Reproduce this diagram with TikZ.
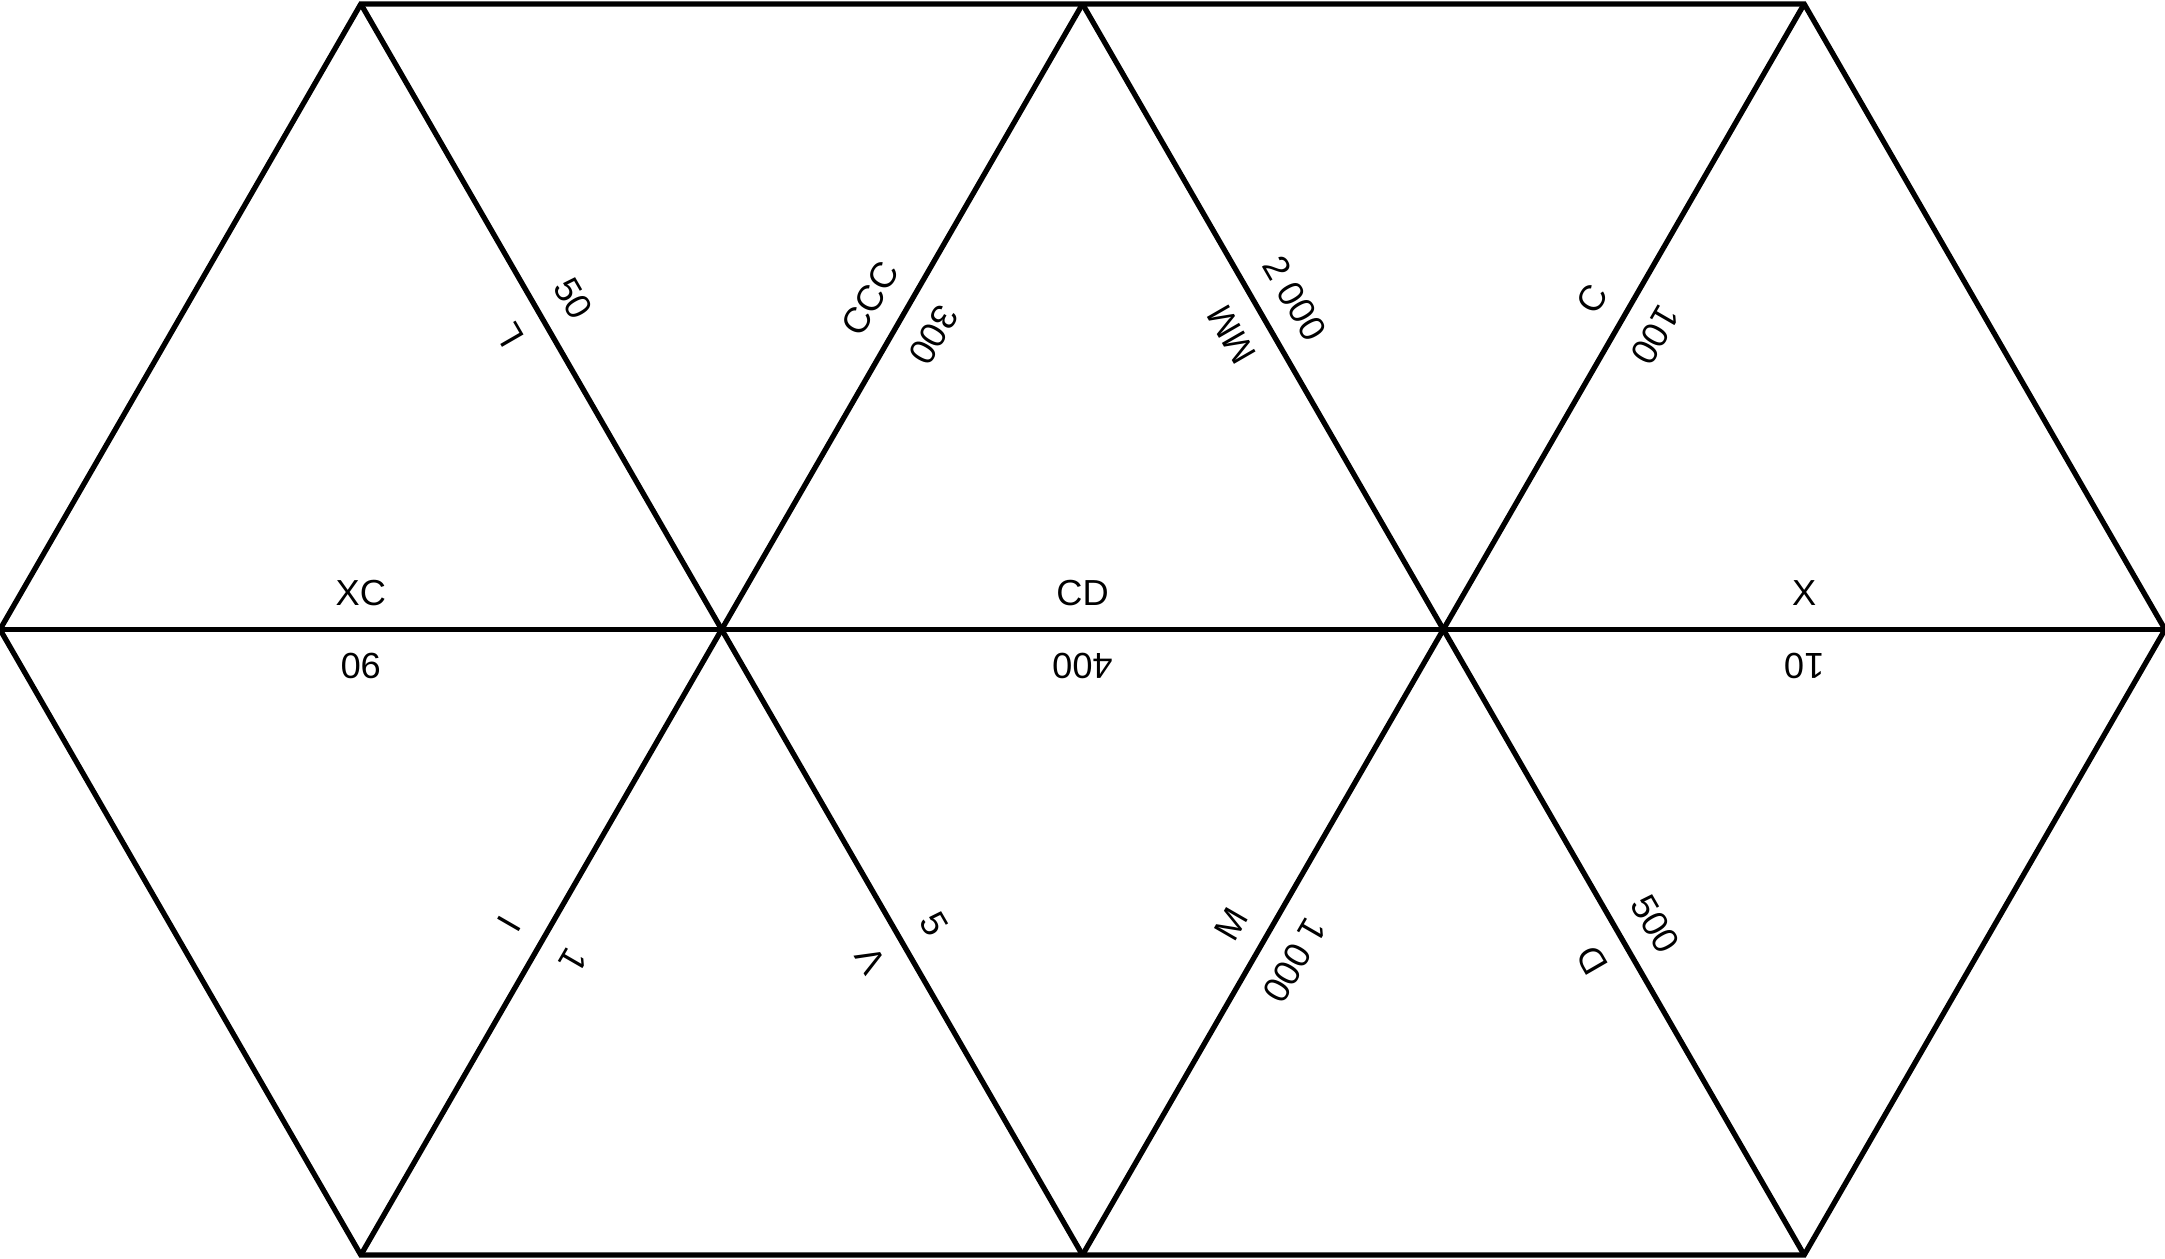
\documentclass[tikz,border=0pt]{standalone}
\usepackage{fontspec}
\setmainfont{Liberation Sans}
\usetikzlibrary{calc}
\tikzset{
  lab/.style={inner sep=0pt, anchor=center, font=\fontsize{10.3pt}{12pt}\selectfont},
  edge/.style={line width=1.5pt, line join=miter, black}
}
\newcommand\offdist{0.365}
\newcommand\gp{\hspace{0.25em}}
% #1,#2 end points, #3 angle of text on first side, #4 first text, #5 second text, #6 name
\newcommand\edgelab[6]{%
  \node[lab, rotate=#3] (#6a) at ($(#1)!0.5!(#2)+({#3+90}:\offdist)$) {#4};
  \node[lab, rotate=#3+180] (#6b) at ($(#1)!0.5!(#2)+({#3-90}:\offdist)$) {#5};
}
\begin{document}
\begin{tikzpicture}
\useasboundingbox (0,0) rectangle (21.65,12.59);
\coordinate (M0) at (0,6.295);
\coordinate (M1) at (7.2167,6.295);
\coordinate (M2) at (14.4333,6.295);
\coordinate (M3) at (21.65,6.295);
\coordinate (T0) at (3.6083,12.55);
\coordinate (T1) at (10.825,12.55);
\coordinate (T2) at (18.0417,12.55);
\coordinate (B0) at (3.6083,0.04);
\coordinate (B1) at (10.825,0.04);
\coordinate (B2) at (18.0417,0.04);

\draw[edge] (T0) -- (T1) -- (T2) -- (M3) -- (B2) -- (B1) -- (B0) -- (M0) -- cycle;
\draw[edge] (M0) -- (M3);
\draw[edge] (T0) -- (B1);
\draw[edge] (T1) -- (B0);
\draw[edge] (T1) -- (B2);
\draw[edge] (T2) -- (B1);

\edgelab{T0}{M1}{-60}{50}{L}{e1}
\edgelab{T1}{M1}{60}{CCC}{300}{e2}
\edgelab{T1}{M2}{-60}{2\gp000}{MM}{e3}
\edgelab{T2}{M2}{60}{C}{100}{e4}
\edgelab{M0}{M1}{0}{XC}{90}{e5}
\edgelab{M1}{M2}{0}{CD}{400}{e6}
\edgelab{M2}{M3}{0}{X}{10}{e7}
\edgelab{M1}{B0}{60}{I}{1}{e8}
\edgelab{M1}{B1}{-60}{5}{V}{e9}
\edgelab{M2}{B1}{60}{M}{1\gp000}{e10}
\edgelab{M2}{B2}{-60}{500}{D}{e11}
\end{tikzpicture}
\end{document}
